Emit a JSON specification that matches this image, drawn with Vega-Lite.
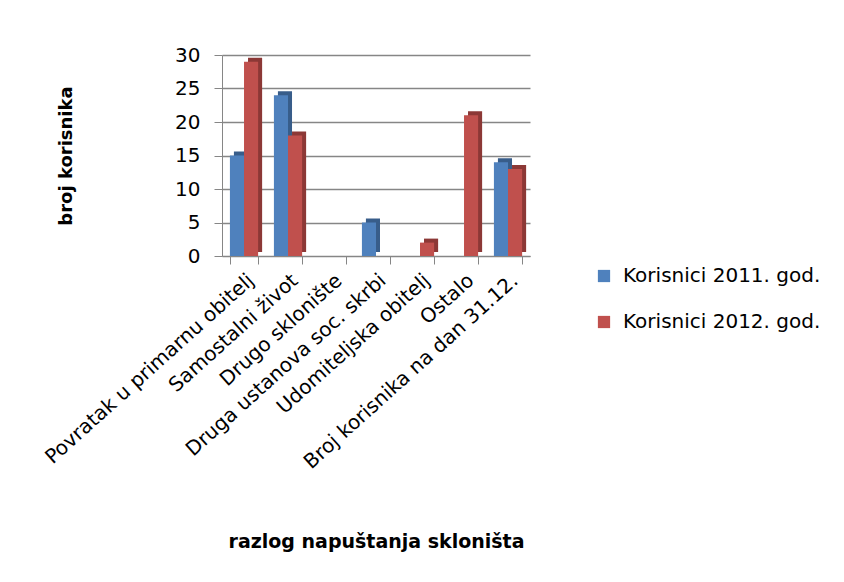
{
  "$schema": "https://vega.github.io/schema/vega-lite/v6.json",
  "autosize": {"type": "none"},
  "padding": {"left": 222, "top": 55, "right": 314, "bottom": 326},
  "width": 308,
  "height": 201,
  "background": "white",
  "config": {
    "font": "DejaVu Sans",
    "view": {"stroke": null}
  },
  "data": {
    "values": [
      {"razlog": "Povratak u primarnu obitelj", "serija": "Korisnici 2011. god.", "broj": 15},
      {"razlog": "Povratak u primarnu obitelj", "serija": "Korisnici 2012. god.", "broj": 29},
      {"razlog": "Samostalni život", "serija": "Korisnici 2011. god.", "broj": 24},
      {"razlog": "Samostalni život", "serija": "Korisnici 2012. god.", "broj": 18},
      {"razlog": "Drugo sklonište", "serija": "Korisnici 2011. god.", "broj": 0},
      {"razlog": "Drugo sklonište", "serija": "Korisnici 2012. god.", "broj": 0},
      {"razlog": "Druga ustanova soc. skrbi", "serija": "Korisnici 2011. god.", "broj": 5},
      {"razlog": "Druga ustanova soc. skrbi", "serija": "Korisnici 2012. god.", "broj": 0},
      {"razlog": "Udomiteljska obitelj", "serija": "Korisnici 2011. god.", "broj": 0},
      {"razlog": "Udomiteljska obitelj", "serija": "Korisnici 2012. god.", "broj": 2},
      {"razlog": "Ostalo", "serija": "Korisnici 2011. god.", "broj": 0},
      {"razlog": "Ostalo", "serija": "Korisnici 2012. god.", "broj": 21},
      {"razlog": "Broj korisnika na dan 31.12.", "serija": "Korisnici 2011. god.", "broj": 14},
      {"razlog": "Broj korisnika na dan 31.12.", "serija": "Korisnici 2012. god.", "broj": 13}
    ]
  },
  "encoding": {
    "x": {
      "field": "razlog", "type": "nominal", "sort": null,
      "scale": {"paddingInner": 0.36, "paddingOuter": 0.18},
      "axis": {
        "title": "razlog napuštanja  skloništa",
        "titleFont": "DejaVu Sans", "titleFontSize": 19, "titleFontWeight": "bold", "titleColor": "black",
        "titlePadding": 76,
        "labelAngle": -42, "labelFontSize": 20, "labelColor": "black", "labelPadding": 6,
        "labelLimit": 400,
        "tickBand": "extent", "tickSize": 8, "tickColor": "#868686", "domainColor": "#868686",
        "grid": false
      }
    },
    "y": {
      "field": "broj", "type": "quantitative",
      "scale": {"domain": [0, 30]},
      "axis": {
        "title": "broj korisnika",
        "titleFont": "DejaVu Sans", "titleFontSize": 18, "titleFontWeight": "bold", "titleColor": "black",
        "titlePadding": 99,
        "values": [0, 5, 10, 15, 20, 25, 30],
        "labelFontSize": 20, "labelColor": "black", "labelPadding": 14,
        "tickSize": 8, "tickColor": "#868686", "domainColor": "#868686",
        "grid": true, "gridColor": "#868686", "gridWidth": 1.5
      }
    }
  },
  "layer": [
    {
      "mark": {"type": "bar", "yOffset": -4},
      "encoding": {
        "xOffset": {"field": "serija", "type": "nominal", "scale": {"range": [4, 32.2]}},
        "color": {
          "field": "serija", "type": "nominal",
          "scale": {"range": ["#385D8A", "#8C3836"]},
          "legend": null
        }
      }
    },
    {
      "mark": {"type": "bar"},
      "encoding": {
        "xOffset": {"field": "serija", "type": "nominal", "scale": {"range": [0, 28.2]}},
        "color": {
          "field": "serija", "type": "nominal",
          "scale": {"range": ["#4F81BD", "#C0504D"]},
          "legend": {
            "title": null, "orient": "none", "legendX": 372, "legendY": 211,
            "symbolType": "square", "symbolSize": 150, "symbolStrokeWidth": 0,
            "labelFontSize": 20, "labelColor": "black", "rowPadding": 26, "labelOffset": 9,
            "labelLimit": 400
          }
        }
      }
    }
  ],
  "resolve": {"scale": {"color": "independent", "xOffset": "independent"}}
}
